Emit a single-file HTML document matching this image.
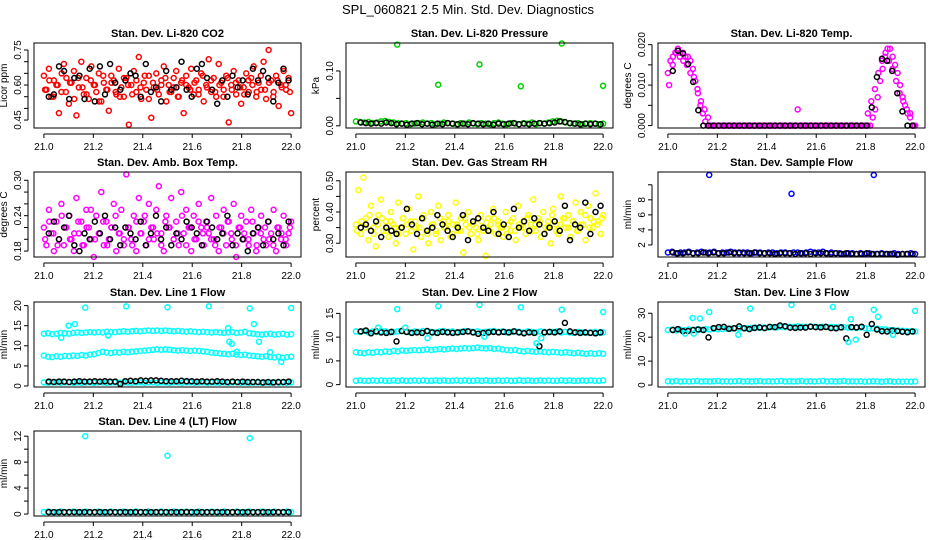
<!DOCTYPE html>
<html><head><meta charset="utf-8"><style>
html,body{margin:0;padding:0;background:#fff}
svg{display:block}
text{font-family:"Liberation Sans",Arial,sans-serif;fill:#000}
</style></head><body>
<svg id="chart" width="936" height="540" viewBox="0 0 936 540" xmlns="http://www.w3.org/2000/svg">
<rect width="936" height="540" fill="#fff"/>
<text x="468" y="14" text-anchor="middle" font-size="13">SPL_060821  2.5 Min. Std. Dev. Diagnostics</text>
</svg>
<script>
// ---- data ----
const xTicks=[21.0,21.2,21.4,21.6,21.8,22.0];
const xTickLabels=["21.0","21.2","21.4","21.6","21.8","22.0"];

const co2Red=[0.64,0.58,0.67,0.55,0.62,0.60,0.48,0.57,0.69,0.63,0.52,0.61,0.66,0.47,0.59,0.70,0.56,0.63,0.54,0.68,
0.60,0.57,0.65,0.53,0.61,0.58,0.49,0.64,0.62,0.56,0.67,0.59,0.55,0.63,0.43,0.60,0.66,0.57,0.72,0.54,
0.61,0.58,0.64,0.46,0.59,0.65,0.56,0.62,0.68,0.53,0.60,0.57,0.63,0.66,0.55,0.61,0.48,0.64,0.59,0.67,
0.56,0.62,0.58,0.65,0.53,0.60,0.71,0.57,0.63,0.55,0.69,0.61,0.58,0.64,0.44,0.60,0.66,0.56,0.62,0.52,
0.59,0.65,0.57,0.63,0.68,0.55,0.61,0.58,0.70,0.54,0.75,0.62,0.57,0.64,0.51,0.60,0.66,0.58,0.63,0.48];
const co2Red2=[0.58,0.62,0.55,0.60,0.65,0.57,0.61,0.54,0.63,0.59,0.56,0.62,0.60,0.53,0.64,0.58,0.61,0.57,0.55,0.63,
0.60,0.56,0.62,0.59,0.64,0.54,0.61,0.58,0.60,0.63,0.57,0.59,0.55,0.62,0.60,0.58,0.61,0.56,0.64,0.59,
0.62,0.57,0.60,0.55,0.63,0.58,0.61,0.59,0.56,0.62,0.60,0.57,0.64,0.58,0.61,0.55,0.62,0.59,0.60,0.57];
const co2Black=[0.55,0.56,0.68,0.66,0.54,0.63,0.64,0.54,0.67,0.53,0.68,0.56,0.69,0.61,0.58,0.62,0.65,0.64,0.55,0.69,0.57,0.59,0.53,0.66,
0.58,0.59,0.70,0.58,0.55,0.67,0.69,0.63,0.58,0.52,0.62,0.55,0.64,0.59,0.62,0.56,0.67,0.62,0.66,0.63,0.53,0.61,0.67,0.62];

const presGreen=[0.008,0.007,0.006,0.007,0.005,0.006,0.008,0.009,0.007,0.006,0.005,0.004,0.005,0.003,0.004,0.005,0.006,0.004,0.005,0.003,
0.004,0.006,0.005,0.004,0.003,0.005,0.004,0.006,0.004,0.003,0.005,0.004,0.003,0.005,0.006,0.004,0.003,0.005,0.004,0.003,
0.005,0.004,0.006,0.003,0.005,0.004,0.006,0.008,0.009,0.008,0.006,0.005,0.004,0.005,0.003,0.004,0.005,0.004,0.003,0.004];
const presOutX=[21.167,21.333,21.5,21.667,21.833,22.0];
const presOutY=[0.148,0.075,0.112,0.072,0.150,0.073];
const presBlack=[0.006,0.005,0.004,0.005,0.004,0.006,0.005,0.003,0.004,0.002,0.004,0.005,0.003,0.004,0.002,0.004,0.003,0.005,0.004,0.003,0.004,0.003,0.005,0.004,
0.003,0.004,0.002,0.004,0.003,0.004,0.005,0.003,0.004,0.003,0.004,0.005,0.004,0.005,0.006,0.008,0.007,0.005,0.004,0.003,0.004,0.003,0.004,0.003];

const tempMag=[0.013,0.016,0.017,0.018,0.019,0.018,0.018,0.017,0.017,0.016,0.014,0.011,0.008,0.005,0.003,0.001,
0,0,0,0,0,0,0,0,0,0,0,0,0,0,0,0,0,0,0,0,0,0,0,0,0,0,0,0,0,0,0,0,0,0,0,0,0.004,0,0,0,0,0,0,0,0,0,0,0,0,0,0,0,0,0,0,0,0,0,0,0,0,0,0,0,0,0,
0.002,0.004,0.007,0.011,0.014,0.017,0.019,0.019,0.017,0.015,0.013,0.010,0.007,0.005,0.003,0.002,0,0];
const tempMag2=[0.010,0.015,0.018,0.017,0.016,0.015,0.013,0.012,0.009,0.006,0.004,0.002,0,0,0,0,0,0,0,0,0,0,0,0,0,0,0,0,0,0,0,0,0,0,0,0,0,0,0,0,
0,0,0,0,0,0,0,0,0,0,0,0,0,0,0,0,0.003,0.006,0.009,0.013,0.016,0.018,0.016,0.014,0.011,0.008,0.006,0.004,0.003,0];
const tempBlack=[0.0135,0.0185,0.0178,0.0152,0.0108,0.0038,0,0,0,0,0,0,0,0,0,0,0,0,0,0,0,0,0,0,0,0,0,0,0,0,0,0,0,0,0,0,0,0,0,
0.0045,0.012,0.0165,0.016,0.0135,0.008,0.0035,0,0];

const ambMag=[0.22,0.19,0.25,0.21,0.18,0.23,0.20,0.26,0.19,0.22,0.24,0.20,0.18,0.27,0.21,0.23,0.19,0.25,0.22,0.20,
0.17,0.24,0.21,0.28,0.19,0.23,0.20,0.22,0.26,0.18,0.21,0.25,0.19,0.31,0.22,0.20,0.24,0.18,0.27,0.21,
0.23,0.19,0.26,0.22,0.20,0.25,0.29,0.21,0.18,0.24,0.22,0.27,0.20,0.23,0.19,0.28,0.21,0.25,0.22,0.18,
0.24,0.20,0.26,0.22,0.19,0.23,0.21,0.27,0.20,0.24,0.18,0.22,0.25,0.19,0.23,0.21,0.26,0.17,0.22,0.24,
0.20,0.23,0.19,0.25,0.21,0.18,0.22,0.24,0.20,0.19,0.23,0.21,0.25,0.18,0.22,0.20,0.24,0.19,0.21,0.23];
const ambMag2=[0.20,0.23,0.21,0.19,0.24,0.22,0.20,0.21,0.23,0.19,0.22,0.25,0.20,0.21,0.23,0.19,0.22,0.24,0.21,0.20,
0.22,0.19,0.23,0.21,0.24,0.20,0.22,0.21,0.19,0.23,0.22,0.20,0.21,0.24,0.19,0.22,0.20,0.23,0.21,0.22,
0.20,0.19,0.22,0.21,0.23,0.20,0.19,0.22,0.21,0.20,0.23,0.19,0.21,0.22,0.20,0.19,0.22,0.21,0.20,0.22];
const ambBlack=[0.21,0.23,0.20,0.22,0.24,0.19,0.18,0.21,0.20,0.23,0.21,0.24,0.20,0.22,0.19,0.22,0.21,0.20,0.23,0.19,0.21,0.24,0.20,0.22,
0.19,0.21,0.20,0.23,0.22,0.21,0.19,0.23,0.22,0.20,0.21,0.24,0.19,0.21,0.20,0.18,0.21,0.22,0.19,0.23,0.20,0.21,0.19,0.23];

const rhYel=[0.36,0.47,0.33,0.51,0.38,0.31,0.42,0.35,0.29,0.39,0.44,0.34,0.37,0.32,0.40,0.36,0.30,0.43,0.35,0.38,
0.33,0.41,0.37,0.28,0.35,0.45,0.32,0.38,0.34,0.30,0.40,0.36,0.33,0.42,0.31,0.37,0.35,0.39,0.32,0.36,
0.43,0.34,0.38,0.27,0.36,0.40,0.33,0.37,0.35,0.31,0.39,0.34,0.26,0.38,0.36,0.41,0.33,0.37,0.35,0.32,
0.40,0.36,0.34,0.38,0.31,0.42,0.35,0.37,0.33,0.39,0.36,0.44,0.34,0.38,0.32,0.40,0.35,0.37,0.30,0.41,
0.36,0.33,0.45,0.38,0.35,0.39,0.32,0.37,0.43,0.34,0.40,0.36,0.31,0.42,0.38,0.35,0.46,0.37,0.33,0.39];
const rhYel2=[0.34,0.37,0.35,0.39,0.33,0.36,0.38,0.34,0.37,0.35,0.33,0.38,0.36,0.34,0.37,0.35,0.39,0.33,0.36,0.34,
0.38,0.35,0.37,0.33,0.36,0.34,0.38,0.35,0.36,0.33,0.37,0.35,0.34,0.38,0.36,0.35,0.33,0.37,0.34,0.36,
0.35,0.38,0.34,0.36,0.37,0.33,0.35,0.39,0.34,0.36,0.38,0.35,0.37,0.34,0.36,0.39,0.35,0.37,0.36,0.38];
const rhBlack=[0.35,0.36,0.34,0.37,0.32,0.35,0.34,0.33,0.35,0.41,0.36,0.33,0.38,0.34,0.35,0.39,0.36,0.34,0.32,0.35,0.39,0.31,0.37,0.38,
0.35,0.34,0.40,0.33,0.36,0.32,0.41,0.35,0.37,0.34,0.38,0.36,0.33,0.35,0.37,0.34,0.42,0.31,0.36,0.35,0.43,0.33,0.40,0.42];

const flowBlue=[1.0,1.1,0.9,1.0,1.0,1.1,0.9,1.0,1.1,1.0,1.0,1.1,0.9,1.0,1.0,1.1,1.0,0.9,1.0,1.0,
0.9,1.0,1.0,0.9,1.0,1.0,0.9,1.0,1.0,0.9,1.0,1.0,0.9,1.0,1.1,1.0,1.0,1.1,0.9,1.0,
0.9,0.9,0.8,0.9,0.9,0.8,0.9,0.8,0.9,0.8,0.8,0.9,0.8,0.8,0.9,0.8,0.8,0.8,0.9,0.8];
const flowOutX=[21.167,21.5,21.833];
const flowOutY=[11.3,8.8,11.3];
const flowBlack=[1.0,0.9,0.9,1.0,0.9,0.9,1.0,0.9,1.0,0.9,0.9,1.0,0.9,1.0,0.9,0.9,1.0,0.9,0.9,0.9,0.8,0.9,0.9,0.9,
0.8,0.9,0.9,0.8,0.9,0.9,0.9,0.8,0.9,0.8,0.9,0.8,0.8,0.8,0.9,0.8,0.8,0.8,0.8,0.8,0.7,0.8,0.8,0.8];

const l1Upper=[13.0,13.1,12.9,13.0,13.2,13.1,13.0,13.2,13.3,13.2,13.3,13.4,13.3,13.4,13.3,13.5,13.4,13.4,13.5,13.6,13.5,13.6,13.7,13.6,13.7,13.8,13.7,13.8,13.7,13.8,
13.7,13.6,13.7,13.6,13.5,13.6,13.5,13.4,13.5,13.4,13.3,13.4,13.3,13.2,13.3,13.4,13.2,13.3,13.5,13.1,13.0,12.9,12.8,12.9,13.0,12.8,12.9,13.0,12.8,12.9];
const l1Lower=[7.6,7.3,7.2,7.4,7.3,7.5,7.4,7.6,7.5,7.7,7.6,7.8,7.9,8.2,8.5,8.3,8.2,8.4,8.3,8.5,8.4,8.5,8.6,8.7,8.8,8.9,9.0,9.1,9.0,9.1,
9.0,8.9,8.8,8.9,8.8,8.7,8.8,8.7,8.6,8.5,8.3,8.2,8.1,8.0,7.9,8.0,7.8,7.7,7.8,7.6,7.5,7.4,7.3,7.4,7.2,7.1,7.3,7.0,7.2,7.3];
const l1Bottom=[0.9,0.8,0.9,0.9,0.8,0.9,0.9,0.8,0.9,0.8,0.9,0.9,0.8,0.9,0.9,0.8,0.9,0.9,0.8,0.9,0.9,0.8,0.9,0.9,0.8,0.9,0.9,0.8,0.9,0.9,
0.8,0.9,0.9,0.8,0.9,0.9,0.8,0.9,0.9,0.8,0.9,0.9,0.8,0.9,0.8,0.9,0.9,0.8,0.9,0.8,0.9,0.9,0.8,0.9,0.8,0.9,0.8,0.9,0.8,0.9];
const l1OutX=[21.167,21.333,21.5,21.667,21.833,22.0,21.07,21.10,21.125,21.26,21.745,21.75,21.76,21.78,21.85,21.87,21.915,21.96];
const l1OutY=[19.5,19.8,19.6,19.8,19.3,19.4,12.0,15.0,15.4,12.6,14.4,11.0,10.5,8.5,15.4,11.0,8.4,6.0];
const l1Black=[1.1,1.0,1.1,1.1,1.0,1.1,1.2,1.1,1.1,1.2,1.1,1.2,1.1,1.1,0.5,1.2,1.3,1.2,1.4,1.3,1.4,1.4,1.3,1.2,
1.2,1.2,1.3,1.2,1.2,1.1,1.2,1.1,1.1,1.2,1.1,1.0,1.1,1.0,1.1,1.0,1.0,1.0,0.9,1.0,0.9,1.0,1.0,1.1];

const l2Upper=[11.2,11.1,11.3,11.0,11.2,11.1,11.3,11.2,11.0,11.1,11.2,11.3,11.1,11.0,11.2,11.1,11.3,11.2,11.1,11.0,
11.2,11.3,11.1,11.2,11.0,11.1,11.3,11.2,11.1,11.2,11.0,11.1,11.2,11.3,11.1,11.2,11.0,11.1,11.2,11.1,
11.0,11.2,11.1,11.0,11.2,11.1,11.0,11.1,11.2,11.0,11.1,11.0,10.9,11.1,11.0,10.9,11.0,11.1,10.9,11.0];
const l2Mid=[6.8,6.7,6.6,6.8,6.7,6.9,6.8,7.0,6.9,7.1,7.0,7.2,7.1,7.2,7.3,7.2,7.3,7.4,7.3,7.4,7.5,7.4,7.5,7.6,7.5,7.6,7.7,7.6,7.7,7.8,
7.7,7.6,7.7,7.5,7.6,7.4,7.3,7.2,7.3,7.1,7.0,7.1,7.0,6.9,7.0,6.9,6.8,6.9,6.8,6.7,6.8,6.7,6.6,6.7,6.6,6.5,6.6,6.5,6.6,6.5];
const l2Bottom=[0.8,0.9,0.8,0.8,0.9,0.8,0.9,0.8,0.8,0.9,0.8,0.9,0.8,0.8,0.9,0.8,0.9,0.8,0.8,0.9,0.8,0.9,0.8,0.8,0.9,0.8,0.9,0.8,0.8,0.9,
0.8,0.9,0.8,0.8,0.9,0.8,0.9,0.8,0.8,0.9,0.8,0.9,0.8,0.8,0.9,0.8,0.9,0.8,0.8,0.9,0.8,0.9,0.8,0.8,0.9,0.8,0.9,0.8,0.8,0.9];
const l2OutX=[21.167,21.333,21.5,21.667,21.833,22.0,21.09,21.20,21.29,21.52,21.73,21.75];
const l2OutY=[15.9,16.5,16.8,16.3,15.8,15.3,12.0,12.0,9.8,10.1,8.7,9.8];
const l2Black=[11.2,11.4,10.8,11.2,11.0,10.9,11.1,9.1,11.3,11.1,10.9,11.0,10.9,11.3,11.0,10.9,11.1,11.0,10.9,11.0,11.1,11.2,11.0,10.7,
10.9,11.0,11.1,11.0,11.1,11.0,11.2,11.0,10.8,11.0,10.9,8.1,11.0,11.1,11.0,11.2,13.0,11.2,11.0,10.9,11.0,10.9,10.8,11.0];

const l3Upper=[23.0,23.2,22.8,23.1,22.9,23.2,23.0,23.3,23.1,23.4,23.2,23.5,23.3,23.4,23.6,23.5,23.7,23.6,23.8,23.7,
23.9,24.0,23.9,24.1,24.0,24.2,24.1,24.3,24.2,24.4,24.3,24.5,24.4,24.3,24.5,24.4,24.3,24.4,24.2,24.3,
24.2,24.1,24.2,24.0,24.1,23.9,24.0,23.8,23.6,23.7,23.5,23.3,23.2,23.0,22.9,22.8,22.7,22.6,22.5,22.4];
const l3Bottom=[1.6,1.5,1.7,1.5,1.6,1.5,1.6,1.7,1.5,1.6,1.5,1.6,1.7,1.5,1.6,1.5,1.6,1.7,1.5,1.6,1.5,1.6,1.7,1.5,1.6,1.5,1.6,1.7,1.5,1.6,
1.5,1.6,1.7,1.5,1.6,1.5,1.6,1.7,1.5,1.6,1.5,1.6,1.7,1.5,1.6,1.5,1.6,1.4,1.5,1.6,1.5,1.4,1.5,1.6,1.4,1.5,1.4,1.5,1.4,1.5];
const l3OutX=[21.10,21.13,21.167,21.333,21.5,21.667,21.833,22.0,21.07,21.105,21.285,21.73,21.74,21.76,21.85,21.91];
const l3OutY=[28.0,27.8,30.5,32.0,33.5,32.6,31.5,31.0,21.5,21.5,21.0,18.0,27.5,19.0,28.5,21.0];
const l3Black=[23.0,23.4,22.5,22.6,23.0,23.2,23.0,19.9,23.8,24.2,24.3,23.5,23.7,24.5,23.7,23.4,23.9,24.1,23.8,24.3,24.2,24.9,24.6,24.0,
23.9,24.0,24.0,24.4,24.2,24.1,24.3,23.8,23.7,24.1,19.5,24.2,24.1,24.4,21.0,25.5,23.2,22.5,22.4,22.8,22.6,22.3,22.1,22.4];

const l4Band=[0.3,0.4,0.3,0.3,0.4,0.3,0.3,0.4,0.3,0.3,0.4,0.3,0.3,0.4,0.3,0.3,0.4,0.3,0.3,0.4,0.3,0.3,0.4,0.3,0.3,0.4,0.3,0.3,0.4,0.3,
0.3,0.4,0.3,0.3,0.4,0.3,0.3,0.4,0.3,0.3,0.4,0.3,0.3,0.4,0.3,0.3,0.4,0.3,0.3,0.4,0.3,0.3,0.4,0.3,0.3,0.4,0.3,0.3,0.4,0.3];
const l4OutX=[21.167,21.5,21.833];
const l4OutY=[12.0,9.0,11.7];
const l4Black=[0.3,0.3,0.3,0.3,0.3,0.3,0.3,0.3,0.3,0.3,0.3,0.3,0.3,0.3,0.3,0.3,0.3,0.3,0.3,0.3,0.3,0.3,0.3,0.3,
0.3,0.3,0.3,0.3,0.3,0.3,0.3,0.3,0.3,0.3,0.3,0.3,0.3,0.3,0.3,0.3,0.3,0.3,0.3,0.3,0.3,0.3,0.3,0.3];

// ---- layout ----
const NS="http://www.w3.org/2000/svg";
const svg=document.getElementById('chart');
const XLO=20.96, XHI=22.04, BW=267, BH=85;
const RED="#ff0000",GRN="#00d000",MAG="#ff00ff",YEL="#ffff00",BLU="#0000ff",CYN="#00ffff",BLK="#000000";

function mk(tag,attrs,parent){const e=document.createElementNS(NS,tag);for(const k in attrs)e.setAttribute(k,attrs[k]);(parent||svg).appendChild(e);return e;}

const panels=[
 {name:"co2",title:"Stan. Dev. Li-820 CO2",ylab:"Licor ppm",col:0,row:0,ylo:0.416,yhi:0.780,
  ticks:[0.45,0.50,0.55,0.60,0.65,0.70,0.75],labels:{"0.45":"0.45","0.6":"0.60","0.75":"0.75"},
  series:[[co2Red,RED,21.0,22.0],[co2Red2,RED,21.005,21.995],[co2Black,BLK,21.02,21.99]],out:[]},
 {name:"pressure",title:"Stan. Dev. Li-820 Pressure",ylab:"kPa",col:1,row:0,ylo:-0.004,yhi:0.151,
  ticks:[0,0.05,0.10],labels:{"0":"0.00","0.1":"0.10"},
  series:[[presGreen,GRN,21.0,22.0],[presBlack,BLK,21.02,21.99]],out:[[presOutX,presOutY,GRN]]},
 {name:"temp",title:"Stan. Dev. Li-820 Temp.",ylab:"degrees C",col:2,row:0,ylo:-0.0006,yhi:0.0204,
  ticks:[0,0.005,0.010,0.015,0.020],labels:{"0":"0.000","0.01":"0.010","0.02":"0.020"},
  series:[[tempMag,MAG,21.0,22.0],[tempMag2,MAG,21.005,21.995],[tempBlack,BLK,21.02,21.99]],out:[]},
 {name:"amb-box-temp",title:"Stan. Dev. Amb. Box Temp.",ylab:"degrees C",col:0,row:1,ylo:0.170,yhi:0.314,
  ticks:[0.18,0.20,0.22,0.24,0.26,0.28,0.30],labels:{"0.18":"0.18","0.24":"0.24","0.3":"0.30"},
  series:[[ambMag,MAG,21.0,22.0],[ambMag2,MAG,21.005,21.995],[ambBlack,BLK,21.02,21.99]],out:[]},
 {name:"gas-rh",title:"Stan. Dev. Gas Stream RH",ylab:"percent",col:1,row:1,ylo:0.256,yhi:0.528,
  ticks:[0.30,0.35,0.40,0.45,0.50],labels:{"0.3":"0.30","0.4":"0.40","0.5":"0.50"},
  series:[[rhYel,YEL,21.0,22.0],[rhYel2,YEL,21.005,21.995],[rhBlack,BLK,21.02,21.99]],out:[]},
 {name:"sample-flow",title:"Stan. Dev. Sample Flow",ylab:"ml/min",col:2,row:1,ylo:0.4,yhi:11.7,
  ticks:[2,4,6,8,10],labels:{"2":"2","4":"4","6":"6","8":"8"},
  series:[[flowBlue,BLU,21.0,22.0],[flowBlack,BLK,21.02,21.99]],out:[[flowOutX,flowOutY,BLU]]},
 {name:"line1-flow",title:"Stan. Dev. Line 1 Flow",ylab:"ml/min",col:0,row:2,ylo:-0.25,yhi:20.9,
  ticks:[0,5,10,15,20],labels:{"0":"0","5":"5","10":"10","15":"15","20":"20"},
  series:[[l1Upper,CYN,21.0,22.0],[l1Lower,CYN,21.0,22.0],[l1Bottom,CYN,21.0,22.0],[l1Black,BLK,21.02,21.99]],out:[[l1OutX,l1OutY,CYN]]},
 {name:"line2-flow",title:"Stan. Dev. Line 2 Flow",ylab:"ml/min",col:1,row:2,ylo:-0.5,yhi:17.4,
  ticks:[0,5,10,15],labels:{"0":"0","5":"5","10":"10","15":"15"},
  series:[[l2Upper,CYN,21.0,22.0],[l2Mid,CYN,21.0,22.0],[l2Bottom,CYN,21.0,22.0],[l2Black,BLK,21.02,21.99]],out:[[l2OutX,l2OutY,CYN]]},
 {name:"line3-flow",title:"Stan. Dev. Line 3 Flow",ylab:"ml/min",col:2,row:2,ylo:-0.8,yhi:34.7,
  ticks:[0,10,20,30],labels:{"0":"0","10":"10","20":"20","30":"30"},
  series:[[l3Upper,CYN,21.0,22.0],[l3Bottom,CYN,21.0,22.0],[l3Black,BLK,21.02,21.99]],out:[[l3OutX,l3OutY,CYN]]},
 {name:"line4-flow",title:"Stan. Dev. Line 4 (LT) Flow",ylab:"ml/min",col:0,row:3,ylo:-0.3,yhi:12.8,
  ticks:[0,2,4,6,8,10,12],labels:{"0":"0","4":"4","8":"8","12":"12"},
  series:[[l4Band,CYN,21.0,22.0],[l4Black,BLK,21.02,21.99]],out:[[l4OutX,l4OutY,CYN]]}
];
const colX=[34,346,658], rowY=[43,172,302,431];

panels.forEach(p=>{
  const L=colX[p.col], T=rowY[p.row];
  const sx=v=>L+(v-XLO)/(XHI-XLO)*BW;
  const sy=v=>T+BH-(v-p.ylo)/(p.yhi-p.ylo)*BH;
  const g=mk('g',{});
  
  
  const t=mk('text',{x:L+BW/2,y:T-6,'text-anchor':'middle','font-size':'11','font-weight':'bold'},g);
  t.textContent=p.title;
  
  
  // points
  const pg=mk('g',{fill:'none','stroke-width':'1.5'},g);
  
  
  p.series.forEach(s=>{
    const vals=s[0],n=vals.length;
    vals.forEach((v,i)=>{
      const xv=s[2]+(n>1?i*(s[3]-s[2])/(n-1):0);
      const c=mk('circle',{cx:sx(xv).toFixed(1),cy:sy(v).toFixed(1),r:2.5,stroke:s[1]},pg);
      
      
    });
  });
  p.out.forEach(o=>{
    o[0].forEach((xv,i)=>{
      const c=mk('circle',{cx:sx(xv).toFixed(1),cy:sy(o[1][i]).toFixed(1),r:2.5,stroke:o[2]},pg);
      
      
    });
  });
  // redraw black series on top
  // box
  const b=mk('rect',{x:L,y:T,width:BW,height:BH,fill:'none',stroke:'#000','stroke-width':'1'},g);
  
  
  // x axis
  const xa=mk('g',{},g);
  
  
  mk('line',{x1:sx(xTicks[0]),x2:sx(xTicks[xTicks.length-1]),y1:T+BH+6,y2:T+BH+6,stroke:'#000'},xa);
  xTicks.forEach((tv,i)=>{
    const x=sx(tv);
    mk('line',{x1:x,x2:x,y1:T+BH+6,y2:T+BH+10,stroke:'#000'},xa);
    const tl=mk('text',{x:x,y:T+BH+22,'text-anchor':'middle','font-size':'10'},xa);
    tl.textContent=xTickLabels[i];
    
    
  });
  // y axis
  const ya=mk('g',{},g);
  
  
  mk('line',{x1:L-6,x2:L-6,y1:sy(p.ticks[0]),y2:sy(p.ticks[p.ticks.length-1]),stroke:'#000'},ya);
  p.ticks.forEach(tv=>{
    const y=sy(tv);
    mk('line',{x1:L-10,x2:L-6,y1:y,y2:y,stroke:'#000'},ya);
    const key=String(+tv.toFixed(6));
    if(p.labels[key]!==undefined){
      const tl=mk('text',{x:L-13,y:y,'text-anchor':'middle','font-size':'10',transform:`rotate(-90 ${L-13} ${y})`},ya);
      tl.textContent=p.labels[key];
      
      
    }
  });
  const yt=mk('text',{x:L-27,y:T+BH/2,'text-anchor':'middle','font-size':'10',transform:`rotate(-90 ${L-27} ${T+BH/2})`},g);
  yt.textContent=p.ylab;
  
  
});
</script>
</body></html>
